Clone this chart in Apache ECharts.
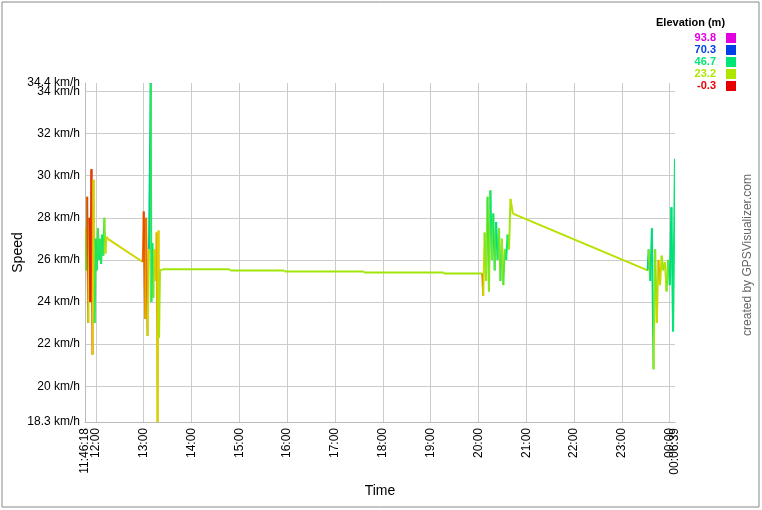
<!DOCTYPE html>
<html><head><meta charset="utf-8">
<script src="https://cdn.jsdelivr.net/npm/echarts@6/dist/echarts.min.js"></script>
<style>html,body{margin:0;background:#fff}#c{width:762px;height:510px}</style></head>
<body><div id="c"></div>
<script>
// time in decimal hours, speed km/h, elevation m
const times = [11.772,11.794,11.817,11.839,11.862,11.884,11.907,11.929,11.952,11.974,11.997,12.019,12.042,12.064,12.087,12.109,12.132,12.154,12.177,12.199,12.222,12.25,
 12.98,13.00,13.03,13.05,13.08,13.11,13.146,13.16,13.18,13.20,13.22,13.25,13.27,13.29,13.31,13.32,13.34,
 13.40,14.80,14.81,15.94,15.95,17.60,17.61,19.27,19.28,20.08,
 20.10,20.13,20.16,20.19,20.22,20.25,20.28,20.31,20.34,20.37,20.40,20.43,20.46,20.49,20.52,20.55,20.58,20.61,20.64,20.67,20.72,
 23.54,23.56,23.594,23.628,23.662,23.696,23.73,23.764,23.798,23.832,23.866,23.90,23.934,23.968,24.002,24.036,24.07,24.11];
const speeds = [27.5,25.5,29,23,28,24,30.3,21.5,29.8,23,27,25.5,27.5,26,27,25.8,27.2,26.2,28,26.3,27.1,27.0,
 25.9,28.3,23.2,28,22.4,26.5,34.4,24,26.8,24.2,26.5,25,27.3,18.3,27.4,22.3,25.5,
 25.55,25.55,25.5,25.5,25.45,25.45,25.4,25.4,25.35,25.35,
 24.3,27.3,25,29,24.5,29.3,26,28.2,25.5,27.8,26,27.5,25,27,24.8,26.5,26,27.2,26.5,28.9,28.2,
 25.5,26.5,25,27.5,20.8,26.5,23,26,24.8,26.2,25.5,25.9,24.5,26,24.8,28.5,22.6,30.8];
const elevs = [15,12,35,5,20,3,2,4,15,18,40,45,42,38,44,40,42,45,40,30,18,16,
 18,8,5,12,8,20,50,42,40,45,30,20,15,12,18,15,25,
 25,25,25,25,25,25,25,25,25,25,
 8,20,30,25,40,28,45,30,45,35,48,40,30,38,25,35,30,45,40,25,20,
 22,50,30,48,48,25,30,18,12,20,25,28,22,30,35,48,48,46];
const legendVals = ['93.8','70.3','46.7','23.2','-0.3'];
const legendCols = ['#e000e0','#0040e8','#00e676','#aee600','#e80000'];
const speedTicks = [20,22,24,26,28,30,32,34];
const speedEnds = [18.3,34.4];
const hourTicks = [12,13,14,15,16,17,18,19,20,21,22,23,24];
const hourLabels = ['12:00','13:00','14:00','15:00','16:00','17:00','18:00','19:00','20:00','21:00','22:00','23:00','00:00'];
const hourEnds = [11.7717,24.1108];
const hourEndLabels = ['11:46:18','00:06:39'];

const stops=[[-0.3,[232,0,0]],[14,[232,200,0]],[23.2,[174,230,0]],[46.7,[0,230,118]],[70.3,[0,64,232]],[93.8,[224,0,224]]];
function col(e){for(let i=1;i<stops.length;i++){if(e<=stops[i][0]){const a=stops[i-1],b=stops[i],t=Math.max(0,(e-a[0])/(b[0]-a[0]));return 'rgb('+a[1].map((v,k)=>Math.round(v+(b[1][k]-v)*t)).join(',')+')';}}return 'rgb(224,0,224)';}
const data = times.map((t,i)=>[t,speeds[i],elevs[i],i]);
const lab = {fontFamily:'Arial',fontSize:12,color:'#000'};
const chart = echarts.init(document.getElementById('c'));
chart.setOption({
 animation:false,
 grid:{left:85,right:87,top:83,bottom:88,containLabel:false,outerBoundsMode:'none'},
 xAxis:[
  {type:'value',min:hourEnds[0],max:hourEnds[1],name:'Time',nameLocation:'middle',nameGap:62,
   nameTextStyle:{fontFamily:'Arial',fontSize:14,color:'#000'},
   axisLine:{show:true,lineStyle:{color:'#bbb'}},axisTick:{show:false,customValues:hourTicks},
   splitLine:{show:true,lineStyle:{color:'#ccc'}},
   axisLabel:Object.assign({customValues:hourTicks,hideOverlap:false,rotate:90,margin:6,formatter:v=>hourLabels[hourTicks.indexOf(Math.round(v))]},lab)},
  {type:'value',position:'bottom',min:hourEnds[0],max:hourEnds[1],axisLine:{show:false},axisTick:{show:false},splitLine:{show:false},
   axisLabel:Object.assign({customValues:hourEnds,showMinLabel:true,showMaxLabel:true,hideOverlap:false,rotate:90,margin:6,
    formatter:v=>Math.abs(v-hourEnds[0])<0.01?hourEndLabels[0]:hourEndLabels[1]},lab)}
 ],
 yAxis:[
  {type:'value',min:speedEnds[0],max:speedEnds[1],name:'Speed',nameLocation:'middle',nameGap:60,
   nameTextStyle:{fontFamily:'Arial',fontSize:14,color:'#000'},
   axisLine:{show:true,lineStyle:{color:'#bbb'}},axisTick:{show:false,customValues:speedTicks},
   splitLine:{lineStyle:{color:'#ccc'}},
   axisLabel:Object.assign({customValues:speedTicks,hideOverlap:false,margin:5,formatter:v=>Math.round(v)+' km/h'},lab)},
  {type:'value',position:'left',min:speedEnds[0],max:speedEnds[1],axisLine:{show:false},axisTick:{show:false},splitLine:{show:false},
   axisLabel:Object.assign({customValues:speedEnds,showMinLabel:true,showMaxLabel:true,hideOverlap:false,margin:5,formatter:v=>v.toFixed(1)+' km/h'},lab)}
 ],
 series:[{type:'custom',data:data,clip:true,renderItem:(p,api)=>{const i=api.value(3);if(i===0)return null;
   const a=api.coord([times[i-1],speeds[i-1]]),b=api.coord([api.value(0),api.value(1)]);
   return {type:'line',shape:{x1:a[0],y1:a[1],x2:b[0],y2:b[1]},style:{stroke:col(api.value(2)),lineWidth:2}};}}],
 graphic:[
  {type:'rect',shape:{x:2,y:2,width:757,height:505},style:{fill:'none',stroke:'#888',lineWidth:1}},
  {type:'text',left:656,top:17,style:{text:'Elevation (m)',font:'bold 11px Arial',fill:'#000'}},
  ...legendVals.map((v,i)=>({type:'text',right:46,top:32+i*12,style:{text:v,font:'bold 11px Arial',fill:legendCols[i],align:'right'}})),
  ...legendCols.map((c,i)=>({type:'rect',shape:{x:726,y:33+i*12,width:10,height:10},style:{fill:c}})),
  {type:'text',x:748,y:255,rotation:Math.PI/2,style:{text:'created by GPSVisualizer.com',font:'12px Arial',fill:'#666',align:'center',verticalAlign:'middle'}}
 ]
});
</script></body></html>
